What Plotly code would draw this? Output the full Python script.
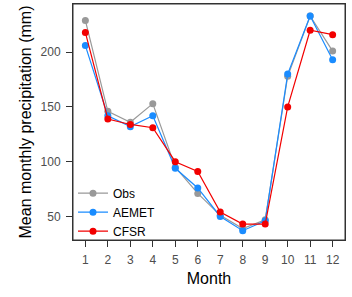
import plotly.graph_objects as go

months = list(range(1, 13))
obs = [229, 146, 136, 153, 95, 71, 51, 39, 47, 178, 233, 201]
aemet = [206, 142, 132, 142, 94, 76, 50, 37, 46, 180, 233, 193]
cfsr = [218, 139, 134, 131, 100, 91, 54, 43, 43, 150, 220, 216]

series = [("Obs", obs, "#999999"), ("AEMET", aemet, "#1A8CFF"), ("CFSR", cfsr, "#F20000")]

fig = go.Figure()
for name, vals, col in series:
    fig.add_trace(go.Scatter(x=months, y=vals, name=name, mode="lines+markers",
                             line=dict(color=col, width=1.2),
                             marker=dict(color=col, size=7)))

axcommon = dict(showline=True, linecolor="#333333", linewidth=1, mirror=True,
                ticks="outside", ticklen=6, tickcolor="#333333", tickwidth=1.3,
                showgrid=False, zeroline=False,
                tickfont=dict(size=12, color="#4D4D4D"))

fig.update_layout(
    width=352, height=297,
    margin=dict(l=73, r=7, t=4, b=57),
    paper_bgcolor="white", plot_bgcolor="white",
    font=dict(family="Liberation Sans, Arial, sans-serif"),
    hovermode=False,
    xaxis=dict(range=[0.45, 12.55], tickvals=months, ticktext=[str(m) for m in months],
               ticklabelstandoff=3,
               title=dict(text="Month", font=dict(size=16, color="black"), standoff=6),
               **axcommon),
    yaxis=dict(range=[28.5, 244], tickvals=[50, 100, 150, 200],
               ticklabelstandoff=3,
               title=dict(text="Mean monthly precipitation (mm)", font=dict(size=16, color="black"), standoff=4),
               **axcommon),
    legend=dict(x=0.0, y=0.26, xanchor="left", yanchor="top", bgcolor="rgba(0,0,0,0)",
                font=dict(size=12, color="black"), itemwidth=30, tracegroupgap=0),
    showlegend=True,
    shapes=[dict(type="rect", xref="paper", yref="paper", x0=0, x1=1, y0=0, y1=1,
                 line=dict(color="#333333", width=1), fillcolor="rgba(0,0,0,0)", layer="above")],
)

fig.write_html("out.html", config={"displayModeBar": False},
               post_script="document.body.style.margin='0';")
